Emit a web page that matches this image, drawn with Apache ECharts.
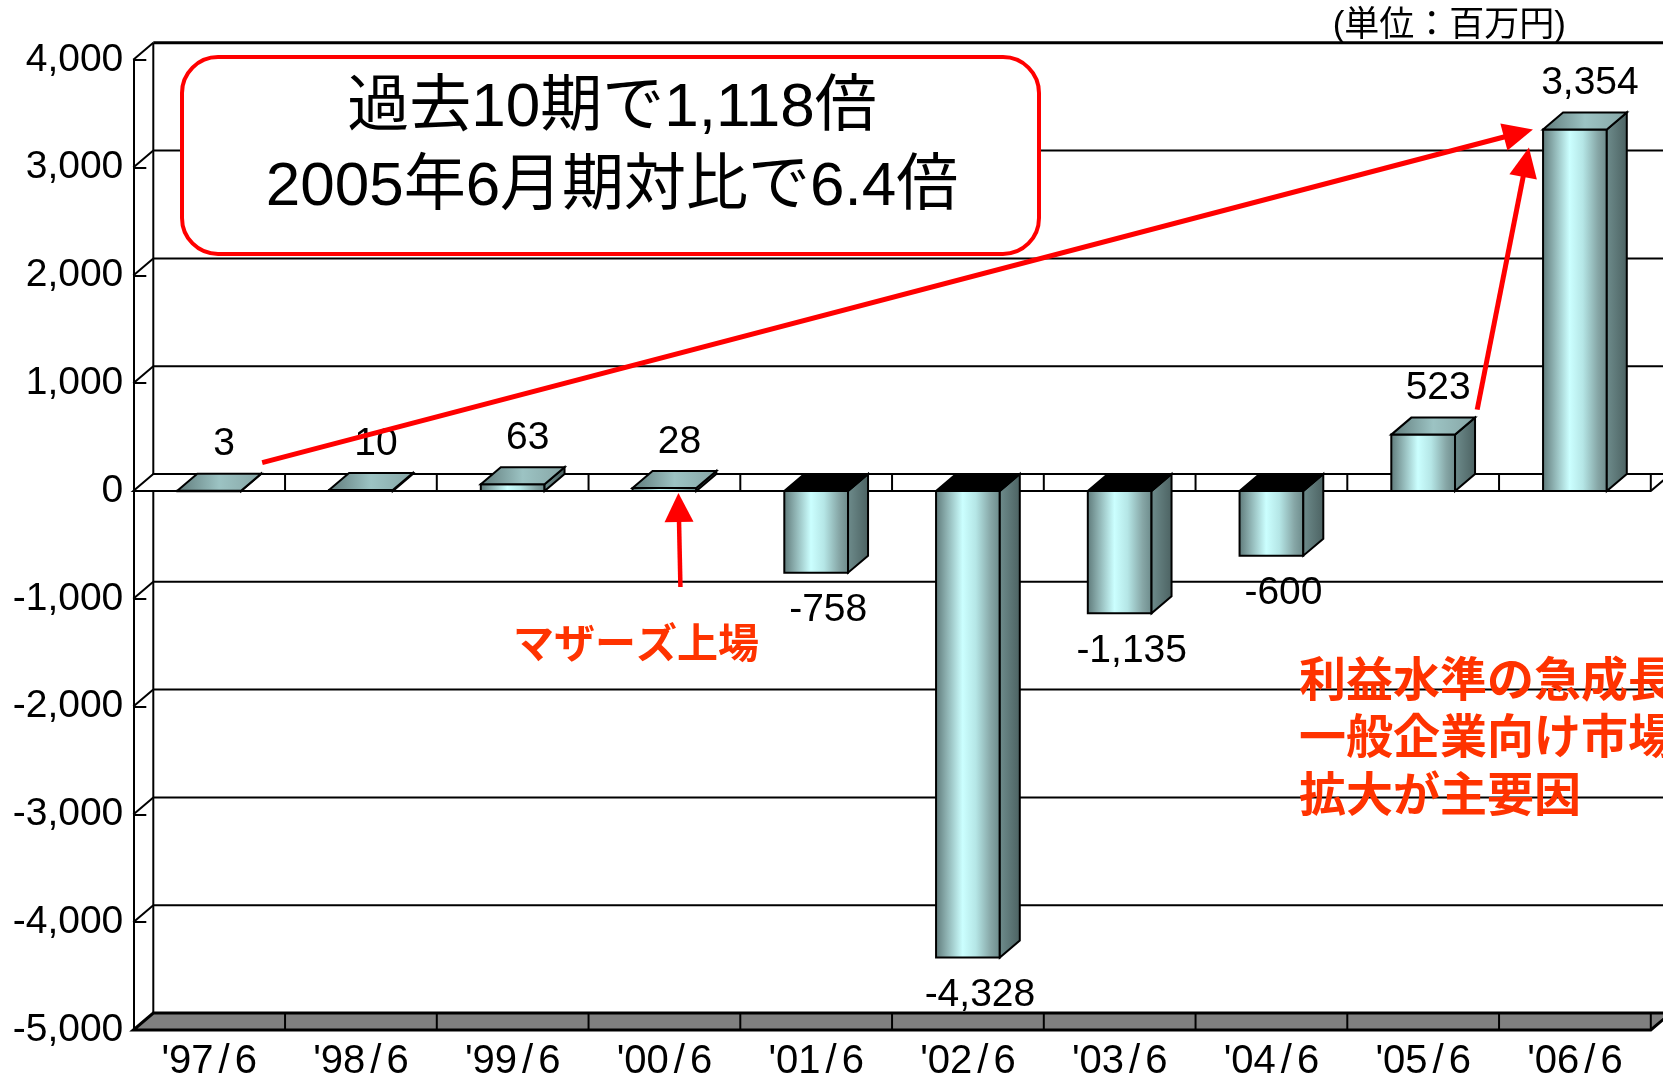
<!DOCTYPE html>
<html>
<head>
<meta charset="utf-8">
<title>経常利益の推移</title>
<script src="https://cdn.jsdelivr.net/npm/echarts@6/dist/echarts.min.js"></script>
<style>
html, body { margin: 0; padding: 0; background: #fff; }
#main { width: 1663px; height: 1082px; }
</style>
</head>
<body>
<div id="main"></div>
<script>
// 決算期
var periods = ["'97/6", "'98/6", "'99/6", "'00/6", "'01/6", "'02/6", "'03/6", "'04/6", "'05/6", "'06/6"];
// 経常利益 (百万円)
var profits = [3, 10, 63, 28, -758, -4328, -1135, -600, 523, 3354];
// 縦軸目盛
var yTicks = [4000, 3000, 2000, 1000, 0, -1000, -2000, -3000, -4000, -5000];
var unitText = '(単位：百万円)';
var boxLines = ['過去10期で1,118倍', '2005年6月期対比で6.4倍'];
var listingNote = 'マザーズ上場';
var growthNote = ['利益水準の急成長', '一般企業向け市場', '拡大が主要因'];

var yMax = yTicks[0], yMin = yTicks[yTicks.length - 1];
var DX = 20, DY = -17;   // 奥行き
var NUM_FONT = '"Liberation Sans", Arial, "Noto Sans CJK JP", sans-serif';
var JP_FONT = '"Liberation Sans", "Noto Sans CJK JP", sans-serif';

function fmt(v) { return Number(v).toLocaleString('en-US'); }

function frontGrad() {
    return new echarts.graphic.LinearGradient(0, 0, 1, 0, [
        {offset: 0, color: '#5c7777'},
        {offset: 0.15, color: '#86a8a8'},
        {offset: 0.42, color: '#cbffff'},
        {offset: 0.62, color: '#b5e6e6'},
        {offset: 0.85, color: '#86a6a6'},
        {offset: 1, color: '#6b8989'}
    ]);
}
function sideGrad() {
    return new echarts.graphic.LinearGradient(0, 0, 1, 0, [
        {offset: 0, color: '#6f8d8d'},
        {offset: 1, color: '#4b6161'}
    ]);
}
function topGrad() {
    return new echarts.graphic.LinearGradient(0, 0, 1, 0, [
        {offset: 0, color: '#5f7a7a'},
        {offset: 0.5, color: '#9cc3c3'},
        {offset: 1, color: '#86a5a5'}
    ]);
}

// 背面の壁・目盛線・床・0面
function renderWall(params, api) {
    var v = api.value(1);
    var cs = params.coordSys;
    var left = cs.x, right = cs.x + cs.width;
    var band = cs.width / periods.length;
    var y = api.coord([0, v])[1];
    var kids = [];
    var k;
    if (v === yMin || v === 0) {
        kids.push({
            type: 'polygon',
            shape: {points: [[left, y], [right, y], [right + DX, y + DY], [left + DX, y + DY]]},
            style: {fill: v === yMin ? '#808080' : '#fff', stroke: '#000', lineWidth: v === yMin ? 3 : 2}
        });
        for (k = 1; k <= periods.length; k++) {
            kids.push({
                type: 'line',
                shape: {x1: left + k * band, y1: y + DY, x2: left + k * band, y2: y},
                style: {stroke: '#000', lineWidth: 2}
            });
        }
    } else {
        kids.push({
            type: 'line',
            shape: {x1: left + DX, y1: y + DY, x2: right + DX, y2: y + DY},
            style: {stroke: '#000', lineWidth: v === yMax ? 3 : 2}
        });
        kids.push({
            type: 'line',
            shape: {x1: left, y1: y, x2: left + DX, y2: y + DY},
            style: {stroke: '#000', lineWidth: 2}
        });
    }
    if (v === yMax) {
        var yb = api.coord([0, yMin])[1];
        kids.push({
            type: 'line',
            shape: {x1: left + DX, y1: y + DY, x2: left + DX, y2: yb + DY},
            style: {stroke: '#000', lineWidth: 2}
        });
    }
    return {type: 'group', children: kids};
}

function renderBar(params, api) {
    var i = api.value(0), v = api.value(1);
    var base = api.coord([i, 0]);
    var end = api.coord([i, v]);
    var hw = api.size([1, 0])[0] * 0.21;
    var xl = base[0] - hw, xr = base[0] + hw;
    var yTop = Math.min(base[1], end[1]), yBot = Math.max(base[1], end[1]);
    var kids = [
        {
            type: 'rect',
            shape: {x: xl, y: yTop, width: xr - xl, height: Math.max(yBot - yTop, 0.5)},
            style: {fill: frontGrad(), stroke: '#000', lineWidth: 2}
        },
        {
            type: 'polygon',
            shape: {points: [[xr, yTop], [xr + DX, yTop + DY], [xr + DX, yBot + DY], [xr, yBot]]},
            style: {fill: sideGrad(), stroke: '#000', lineWidth: 2}
        },
        {
            type: 'polygon',
            shape: {points: [[xl, yTop], [xr, yTop], [xr + DX, yTop + DY], [xl + DX, yTop + DY]]},
            style: {fill: v < 0 ? '#000' : topGrad(), stroke: '#000', lineWidth: 2}
        },
        {
            type: 'text',
            style: {
                text: fmt(v),
                x: v < 0 ? base[0] + 12 : base[0] + 15,
                y: v < 0 ? yBot + 38 : yTop + DY - 29,
                align: 'center',
                verticalAlign: 'middle',
                fill: '#000',
                font: '39px ' + NUM_FONT
            }
        }
    ];
    return {type: 'group', children: kids};
}

var chart = echarts.init(document.getElementById('main'));
var option = {
    animation: false,
    backgroundColor: '#fff',
    grid: {left: 133.3, top: 59.8, width: 1517.5, height: 970.2},
    xAxis: {
        type: 'category',
        data: periods,
        axisLine: {show: false, onZero: false},
        axisTick: {show: false},
        axisLabel: {
            margin: 12,
            color: '#000',
            formatter: function (v) {
                var p = v.split('/');
                return '{t|' + p[0] + '}{s|/}{t|' + p[1] + '}';
            },
            rich: {
                t: {fontSize: 40, fontFamily: NUM_FONT, color: '#000'},
                s: {fontSize: 40, fontFamily: NUM_FONT, color: '#000', padding: [0, 5, 0, 5]}
            }
        },
        splitLine: {show: false}
    },
    yAxis: {
        type: 'value',
        min: yMin,
        max: yMax,
        interval: 1000,
        axisLine: {show: true, lineStyle: {color: '#000', width: 2}},
        axisTick: {show: true, inside: true, length: 13, lineStyle: {color: '#000', width: 2}},
        axisLabel: {
            margin: 10,
            fontSize: 39,
            fontFamily: NUM_FONT,
            color: '#000',
            formatter: function (v) { return fmt(v); }
        },
        splitLine: {show: false}
    },
    series: [
        {
            type: 'custom',
            name: 'wall',
            z: 1,
            silent: true,
            renderItem: renderWall,
            data: yTicks.map(function (v) { return [0, v]; })
        },
        {
            type: 'custom',
            name: '経常利益',
            z: 3,
            renderItem: renderBar,
            data: profits.map(function (v, i) { return [i, v]; })
        }
    ]
};
chart.setOption(option);

function px(i, v) { return chart.convertToPixel({gridIndex: 0}, [i, v]); }

function arrow(from, to, width, headLen, headW) {
    var dx = to[0] - from[0], dy = to[1] - from[1];
    var len = Math.sqrt(dx * dx + dy * dy);
    var ux = dx / len, uy = dy / len;
    var bx = to[0] - ux * headLen, by = to[1] - uy * headLen;
    return [
        {type: 'line', z: 100, shape: {x1: from[0], y1: from[1], x2: bx + ux * 2, y2: by + uy * 2},
            style: {stroke: '#ff0000', lineWidth: width}},
        {type: 'polygon', z: 100,
            shape: {points: [to, [bx - uy * headW, by + ux * headW], [bx + uy * headW, by - ux * headW]]},
            style: {fill: '#ff0000'}}
    ];
}

var first = px(0, profits[0]);
var last = px(9, profits[9]);
var prev = px(8, profits[8]);
var listed = px(3, 0);

var graphics = [];
graphics = graphics.concat(arrow([first[0] + 53, first[1] - 28], [last[0] - 42, last[1]], 5, 30, 14));
graphics = graphics.concat(arrow([prev[0] + 54, prev[1] - 25], [last[0] - 46, last[1] + 18], 5, 30, 14));
graphics = graphics.concat(arrow([listed[0] + 16, listed[1] + 96], [listed[0] + 14, listed[1] + 2], 4.5, 29, 14.5));

graphics.push({
    type: 'rect', z: 90,
    shape: {x: 182, y: 57, width: 857, height: 197, r: 36},
    style: {fill: '#fff', stroke: '#ff0000', lineWidth: 4}
});
boxLines.forEach(function (t, i) {
    graphics.push({
        type: 'text', z: 91,
        style: {text: t, x: 612, y: 109 + i * 79, align: 'center', verticalAlign: 'middle',
            fill: '#000', font: '62px ' + JP_FONT}
    });
});
graphics.push({
    type: 'text', z: 91,
    style: {text: unitText, x: 1566, y: 26, align: 'right', verticalAlign: 'middle',
        fill: '#000', font: '35px ' + JP_FONT}
});
graphics.push({
    type: 'text', z: 91,
    style: {text: listingNote, x: 513, y: 642, align: 'left', verticalAlign: 'middle',
        fill: '#ff3300', font: 'bold 41px "Noto Sans CJK JP", sans-serif'}
});
growthNote.forEach(function (t, i) {
    graphics.push({
        type: 'text', z: 91,
        style: {text: t, x: 1299, y: 678 + i * 57.5, align: 'left', verticalAlign: 'middle',
            fill: '#ff3300', font: 'bold 47px "Noto Sans CJK JP", sans-serif'}
    });
});

chart.setOption({graphic: {elements: graphics}});
</script>
</body>
</html>
